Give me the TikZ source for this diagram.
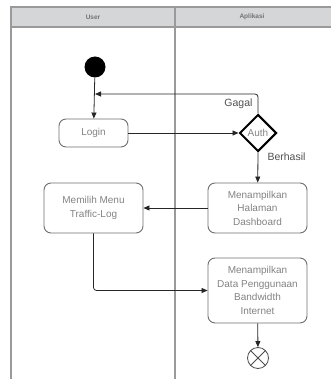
\documentclass[tikz,border=0pt]{standalone}
\usepackage{fontspec}
\setmainfont{Liberation Sans}
\usetikzlibrary{shapes.geometric,arrows.meta}
\definecolor{lane}{HTML}{9A9A9A}
\definecolor{hdr}{HTML}{D4D6D8}
\definecolor{boxtxt}{HTML}{828282}
\definecolor{boxln}{HTML}{6E6E6E}
\definecolor{lbl}{HTML}{505050}
\tikzset{
  act/.style={draw=boxln, line width=0.9pt, rounded corners=7pt, text=boxtxt, font=\fontsize{10}{13.5}\selectfont, align=center, inner sep=0pt},
  flow/.style={draw=black!85, line width=0.8pt, -{Triangle[length=6pt,width=5pt]}, rounded corners=3pt},
  hdrtxt/.style={text=black!55, font=\fontsize{6.5}{8}\selectfont\bfseries},
  lbltxt/.style={text=lbl, font=\fontsize{10.5}{12}\selectfont}
}
\begin{document}
\begin{tikzpicture}[x=1pt,y=-1pt]
\useasboundingbox (0,0) rectangle (330,379);
% lanes
\fill[hdr] (11,7) rectangle (331,27);
\draw[lane, line width=1.2pt] (11,379) -- (11,7) -- (331,7);
\draw[lane, line width=1.2pt] (11,27) -- (331,27);
\draw[lane, line width=1.2pt] (175,7) -- (175,379);
\node[hdrtxt] (hu) at (93,17) {User};
\node[hdrtxt] (ha) at (252,17) {Aplikasi};
% nodes
\node[circle, fill=black, minimum size=21pt, inner sep=0pt] (start) at (95,67) {};
\node[act, minimum width=69pt, minimum height=28pt] (login) at (93.5,133) {Login};
\node[diamond, draw=black, line width=2pt, minimum width=37pt, minimum height=37pt, inner sep=0pt, text=boxtxt, font=\fontsize{10}{12}\selectfont] (auth) at (258,133) {Auth};
\node[act, minimum width=99pt, minimum height=50pt] (dash) at (257.5,208) {Menampilkan\\Halaman\\Dashboard};
\node[act, minimum width=99pt, minimum height=50pt] (menu) at (93.5,208) {Memilih Menu\\Traffic-Log};
\node[act, minimum width=99pt, minimum height=65pt] (data) at (257.5,290.5) {Menampilkan\\Data Penggunaan\\Bandwidth\\Internet};
\node[circle, draw=black!70, line width=0.8pt, minimum size=21pt, inner sep=0pt] (end) at (258,358) {};
\draw[black!70, line width=0.8pt] (end.north west) -- (end.south east) (end.north east) -- (end.south west);
\coordinate (ret) at (95,94);
% edges
\draw[flow] (start) -- (login);
\draw[flow] (login) -- (auth);
\draw[flow] (auth.north) |- (ret);
\draw[flow] (auth.south) -- (dash);
\draw[flow] (dash) -- (menu);
\draw[flow] (menu.south) |- (data.west);
\draw[flow] (data) -- (end);
% labels
\node[lbltxt, anchor=east] (gagal) at (256,104) {Gagal};
\node[lbltxt, anchor=west] (berhasil) at (264,157) {Berhasil};
\end{tikzpicture}
\end{document}
